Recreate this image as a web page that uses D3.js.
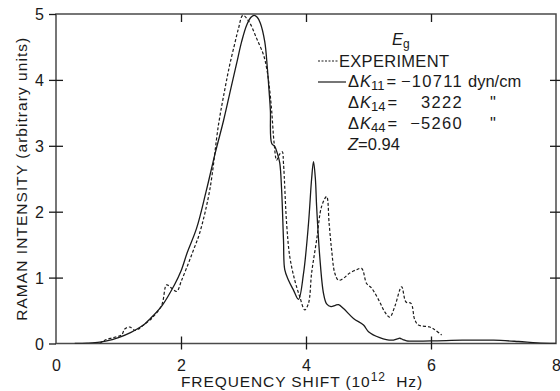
<!DOCTYPE html>
<html>
<head>
<meta charset="utf-8">
<script src="https://cdn.jsdelivr.net/npm/d3@7/dist/d3.min.js"></script>
<style>
  html, body { margin: 0; padding: 0; background: #fff; }
  svg { display: block; font-family: "Liberation Sans", Arial, sans-serif; }
  .tick text { font-family: "Liberation Sans", Arial, sans-serif; }
</style>
</head>
<body>
<svg id="chart" width="560" height="391"></svg>
<script>
// Frequency shift (10^12 Hz) and Raman intensity, measured spectrum
const expFreq = [0.70, 0.78, 0.92, 1.05, 1.10, 1.18, 1.26, 1.32, 1.40, 1.53, 1.69, 1.77, 1.85, 1.93,
  2.01, 2.12, 2.20, 2.30, 2.46, 2.60, 2.70, 2.78, 2.86, 2.92, 2.99, 3.09, 3.21, 3.32, 3.37, 3.41,
  3.45, 3.49, 3.53, 3.57, 3.62, 3.64, 3.69, 3.74, 3.82, 3.90, 3.98, 4.04, 4.09, 4.17, 4.25, 4.33,
  4.37, 4.41, 4.46, 4.52, 4.60, 4.70, 4.81, 4.89, 4.97, 5.05, 5.18, 5.26, 5.34, 5.42, 5.53, 5.60,
  5.68, 5.74, 5.80, 5.98, 6.06, 6.17];
const expIntensity = [0.00, 0.05, 0.09, 0.13, 0.22, 0.25, 0.20, 0.22, 0.28, 0.38, 0.58, 0.89, 0.84, 0.79,
  0.96, 1.22, 1.42, 1.68, 2.33, 3.32, 3.85, 4.23, 4.55, 4.78, 4.98, 4.88, 4.63, 4.38, 4.18, 3.92,
  3.54, 3.04, 2.78, 2.86, 2.91, 2.73, 1.82, 1.32, 0.96, 0.71, 0.51, 0.61, 1.07, 1.57, 2.08, 2.23,
  1.82, 1.42, 1.07, 0.96, 0.99, 1.07, 1.12, 1.14, 0.91, 0.84, 0.63, 0.48, 0.40, 0.56, 0.86, 0.63,
  0.61, 0.36, 0.28, 0.25, 0.21, 0.13];

// Calculated spectrum for the fitted force-constant changes
const calcFreq = [0.30, 0.50, 0.70, 0.90, 1.00, 1.20, 1.40, 1.50, 1.70, 1.90, 2.00, 2.10, 2.25, 2.40,
  2.55, 2.68, 2.80, 2.89, 2.97, 3.05, 3.12, 3.17, 3.22, 3.27, 3.34, 3.38, 3.41, 3.43, 3.45, 3.50,
  3.54, 3.58, 3.61, 3.64, 3.66, 3.72, 3.80, 3.88, 3.96, 4.04, 4.09, 4.12, 4.15, 4.17, 4.22, 4.28,
  4.33, 4.40, 4.47, 4.52, 4.60, 4.76, 4.92, 5.00, 5.18, 5.37, 5.46, 5.50, 5.55, 5.61, 6.00, 6.50,
  7.00, 7.40, 7.70, 8.00];
const calcIntensity = [0.00, 0.005, 0.02, 0.06, 0.09, 0.17, 0.28, 0.37, 0.58, 0.90, 1.10, 1.38, 1.75, 2.30,
  2.90, 3.38, 3.88, 4.25, 4.58, 4.83, 4.95, 4.98, 4.95, 4.86, 4.58, 4.20, 3.82, 3.54, 3.04, 2.99,
  2.89, 2.74, 2.33, 1.57, 1.12, 0.96, 0.81, 0.67, 1.06, 1.82, 2.50, 2.76, 2.50, 2.08, 1.32, 0.76,
  0.60, 0.56, 0.58, 0.59, 0.53, 0.38, 0.28, 0.18, 0.09, 0.05, 0.07, 0.08, 0.06, 0.04, 0.04, 0.05,
  0.05, 0.03, 0.01, 0.00];

// Axis ticks
const xTicks = [0, 2, 4, 6, 8];
const yTicks = [0, 1, 2, 3, 4, 5];
const xInner = [2, 4, 6];
const yInner = [1, 2, 3, 4];

// Legend text
const symLabel = "E";
const symSub = "g";
const expLabel = "EXPERIMENT";
const fitSubs = ["11", "14", "44"];
const fitValues = ["\u221210711", "3222", "\u22125260"];
const fitUnits = ["dyn/cm", "\"", "\""];
const zName = "Z";
const zValue = "=0.94";

const svg = d3.select("#chart");
const ink = "#1a1a1a";
const frameInk = "#4a4a4a";

const x = d3.scaleLinear().domain([0, 8]).range([56, 556]);
const y = d3.scaleLinear().domain([0, 5]).range([343.5, 14]);

// Frame
svg.append("rect")
  .attr("x", x(0)).attr("y", y(5))
  .attr("width", x(8) - x(0)).attr("height", y(0) - y(5))
  .attr("fill", "none").attr("stroke", frameInk).attr("stroke-width", 1.5);

// Bottom axis: labels at every tick, crossing marks at interior ticks
const gx = svg.append("g").attr("transform", `translate(0,${y(0)})`)
  .call(d3.axisBottom(x).tickValues(xTicks).tickSize(6).tickPadding(10).tickFormat(d3.format("d")));
gx.select(".domain").remove();
gx.selectAll(".tick line")
  .attr("y1", -7).attr("y2", 6)
  .attr("stroke", ink).attr("stroke-width", 1.3)
  .attr("display", d => xInner.includes(d) ? null : "none");
gx.selectAll(".tick text").attr("font-size", 16).attr("fill", ink);

// Left axis
const gy = svg.append("g").attr("transform", `translate(${x(0)},0)`)
  .call(d3.axisLeft(y).tickValues(yTicks).tickSize(6).tickPadding(6).tickFormat(d3.format("d")));
gy.select(".domain").remove();
gy.selectAll(".tick line")
  .attr("x2", -7).attr("x1", d => yInner.includes(d) ? 7 : 0)
  .attr("stroke", ink).attr("stroke-width", 1.3);
gy.selectAll(".tick text").attr("font-size", 16).attr("fill", ink).attr("dy", "0.36em");

// Top axis: inward ticks only
const gt = svg.append("g").attr("transform", `translate(0,${y(5)})`)
  .call(d3.axisTop(x).tickValues(xInner).tickSize(-8).tickFormat(""));
gt.select(".domain").remove();
gt.selectAll(".tick line").attr("stroke", ink).attr("stroke-width", 1.3);

// Right axis: crossing ticks
const gr = svg.append("g").attr("transform", `translate(${x(8)},0)`)
  .call(d3.axisRight(y).tickValues(yInner).tickSize(5).tickFormat(""));
gr.select(".domain").remove();
gr.selectAll(".tick line").attr("x1", -6).attr("x2", 4)
  .attr("stroke", ink).attr("stroke-width", 1.3);

// Axis titles
const xTitle = svg.append("text")
  .attr("x", 302).attr("y", 387)
  .attr("text-anchor", "middle").attr("xml:space", "preserve")
  .attr("font-size", 15.5).attr("letter-spacing", 0.9).attr("fill", ink);
xTitle.append("tspan").text("FREQUENCY SHIFT (10");
xTitle.append("tspan").attr("dy", -6).attr("font-size", 12).text("12");
xTitle.append("tspan").attr("dy", 6).text("  Hz)");

svg.append("text")
  .attr("transform", `translate(27,${y(2.5)}) rotate(-90)`)
  .attr("text-anchor", "middle")
  .attr("font-size", 15.5).attr("letter-spacing", 1.05).attr("fill", ink)
  .text("RAMAN INTENSITY (arbitrary units)");

// Spectra
svg.append("clipPath").attr("id", "plotclip")
  .append("rect").attr("x", x(0)).attr("y", y(5) - 2)
  .attr("width", x(8) - x(0)).attr("height", y(0) - y(5) + 2);

const line = d3.line()
  .x(d => x(d[0])).y(d => y(d[1]))
  .curve(d3.curveCatmullRom.alpha(0.5));

svg.append("path")
  .datum(calcFreq.map((f, i) => [f, calcIntensity[i]]))
  .attr("d", line)
  .attr("fill", "none").attr("stroke", ink).attr("stroke-width", 1.3)
  .attr("clip-path", "url(#plotclip)");

svg.append("path")
  .datum(expFreq.map((f, i) => [f, expIntensity[i]]))
  .attr("d", line)
  .attr("fill", "none").attr("stroke", ink).attr("stroke-width", 1.2)
  .attr("stroke-dasharray", "3,2")
  .attr("clip-path", "url(#plotclip)");

// Legend
const lg = svg.append("g").attr("fill", ink).attr("font-size", 16.5);
const sym = lg.append("text").attr("x", 392).attr("y", 45);
sym.append("tspan").attr("font-style", "italic").text(symLabel);
sym.append("tspan").attr("dy", 3).attr("font-size", 12).text(symSub);

lg.append("line").attr("x1", 318).attr("x2", 338).attr("y1", 61).attr("y2", 61)
  .attr("stroke", ink).attr("stroke-width", 1.2).attr("stroke-dasharray", "2,1.5");
lg.append("text").attr("x", 339).attr("y", 67).attr("letter-spacing", 0.3).text(expLabel);

lg.append("line").attr("x1", 318).attr("x2", 346).attr("y1", 82).attr("y2", 82)
  .attr("stroke", ink).attr("stroke-width", 1.2);

fitSubs.forEach((sub, i) => {
  const by = 87 + i * 21;
  const t = lg.append("text").attr("x", 348).attr("y", by);
  t.append("tspan").text("\u0394");
  t.append("tspan").attr("font-style", "italic").attr("dx", 1).text("K");
  t.append("tspan").attr("dy", 2.5).attr("font-size", 13).text(sub);
  t.append("tspan").attr("dy", -2.5).attr("dx", 2).text("=");
  lg.append("text").attr("x", 463).attr("y", by)
    .attr("text-anchor", "end").attr("letter-spacing", 1.3).text(fitValues[i]);
  lg.append("text").attr("x", i === 0 ? 468 : 493).attr("y", by)
    .attr("text-anchor", i === 0 ? "start" : "middle").text(fitUnits[i]);
});

const zt = lg.append("text").attr("x", 348).attr("y", 150);
zt.append("tspan").attr("font-style", "italic").text(zName);
zt.append("tspan").text(zValue);
</script>
</body>
</html>
